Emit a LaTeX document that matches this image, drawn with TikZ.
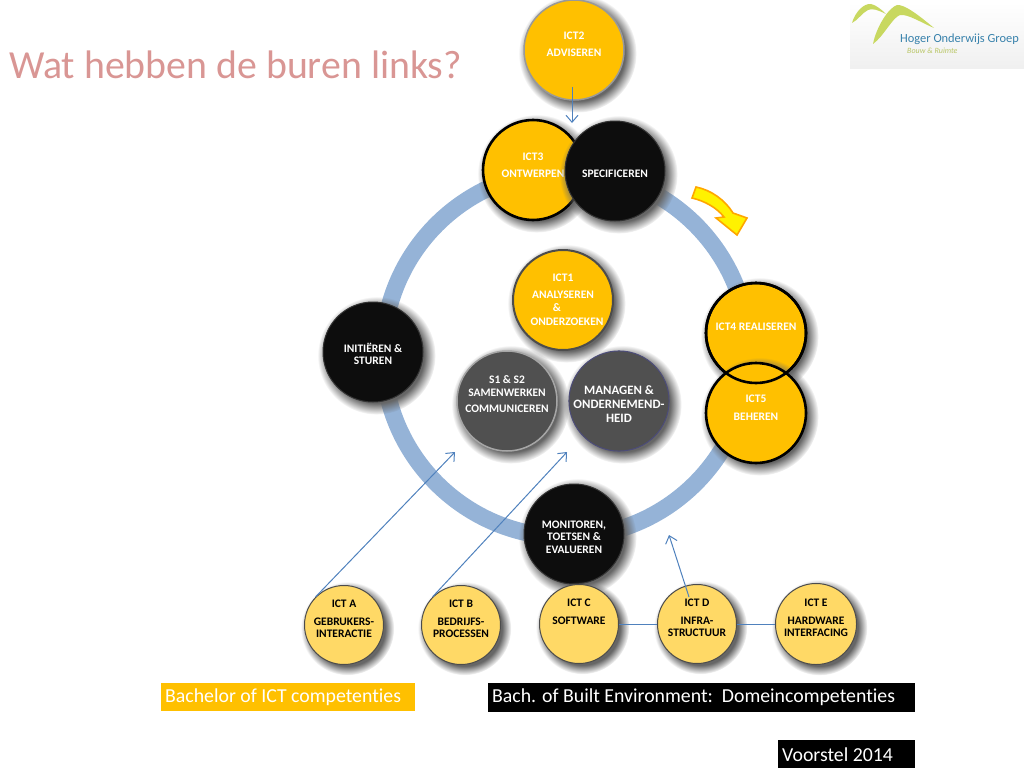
\documentclass[tikz,border=0pt]{standalone}
\usepackage{fontspec}
\setmainfont{Carlito}[Ligatures=CommonOff]
\usetikzlibrary{arrows.meta,shadows,shadings,fadings}
\definecolor{icthigh}{HTML}{FFC000}
\definecolor{ictlow}{HTML}{FFD966}
\definecolor{ringblue}{HTML}{95B3D7}
\definecolor{linkblue}{HTML}{4F81BD}
\definecolor{softgrey}{HTML}{505050}
\definecolor{nearblack}{HTML}{0D0D0D}
\definecolor{titlerose}{HTML}{D99694}
\definecolor{logogreen}{HTML}{C8D860}
\tikzset{
  disc/.style={circle, minimum size=#1, inner sep=0pt, align=center, font=\bfseries\fontsize{11.5}{12.5}\selectfont,
    general shadow={shadow xshift=3pt, shadow yshift=-3pt, shadow scale=1.18, fill=black!60,
      path fading={circle with fuzzy edge 20 percent}}},
  high/.style={disc=100pt, fill=icthigh, text=white, draw=gray!80, line width=1.5pt},
  highrim/.style={disc=100pt, fill=icthigh, text=white, draw=black, line width=2.6pt},
  dark/.style={disc=100pt, fill=nearblack, text=white, draw=gray!40!black, line width=1pt},
  mid/.style={disc=100pt, fill=softgrey, text=white, draw=gray!70, line width=1.5pt},
  low/.style={disc=79pt, fill=ictlow, text=black, draw=black!70, line width=1pt},
  link/.style={linkblue, line width=1pt},
  tag/.style={anchor=north west, inner ysep=0pt, inner xsep=4pt, align=flush left, font=\fontsize{19.8}{22}\selectfont},
}
\begin{document}
\begin{tikzpicture}[x=1pt,y=-1pt]
\useasboundingbox (0,0) rectangle (1024,768);
\node[anchor=west, inner sep=0pt, text=titlerose, font=\fontsize{39.8}{42}\selectfont] (title) at (9,65) {Wat hebben de buren links?};
% logo
\shade[top color=white, bottom color=black!6] (850,2) rectangle (1024,68);
\fill[logogreen] (852,23) .. controls (855,12) and (864,3) .. (871,4) .. controls (876,5) and (882,10) .. (886,14) .. controls (878,10) and (872,8) .. (868,10) .. controls (862,13) and (858,20) .. (852,23) -- cycle;
\fill[logogreen] (873,44) .. controls (876,28) and (888,8) .. (897,5) .. controls (905,4) and (922,18) .. (934,28) .. controls (920,22) and (908,14) .. (900,15) .. controls (892,18) and (884,36) .. (873,44) -- cycle;
\node[anchor=west, inner sep=0pt, text=linkblue!70!teal, font=\fontsize{12.4}{14}\selectfont] (logoname) at (900,39) {Hoger Onderwijs Groep};
\node[anchor=west, inner sep=0pt, text=logogreen!80!gray, font=\itshape\fontsize{8}{9}\selectfont] (logosub) at (907,51) {Bouw \& Ruimte};
% ring
\node[circle, draw=ringblue, line width=17pt, minimum size=366pt, inner sep=0pt] (ring) at (566,354) {};
% upper discs
\node[high] (ict2) at (574,50) {ICT2\\[5pt]ADVISEREN\\[-1pt]~};
\node[highrim] (ict3) at (533,170) {ICT3\\[5pt]ONTWERPEN\\[-3pt]~};
\node[dark] (spec) at (615,171) {~\\[1pt]SPECIFICEREN};
\node[dark] (init) at (373,352) {~\\[1pt]INITIËREN \&\\STUREN};
\node[high, draw=black!70, line width=2pt] (ict1) at (563,300) {ICT1\\[5pt]ANALYSEREN\\\hspace*{-12pt}\&\\[2pt]\hspace*{8pt}ONDERZOEKEN};
\node[mid] (samen) at (507,401) {S1 \& S2\\SAMENWERKEN\\[4pt]COMMUNICEREN\\[1pt]~};
\node[mid, draw=blue!25!black!70, line width=1pt, font=\bfseries\fontsize{12.8}{14}\selectfont] (managen) at (619,401) {~\\MANAGEN \&\\ONDERNEMEND-\\HEID};
\node[highrim] (ict4) at (756,333) {ICT4 REALISEREN\\~};
\node[highrim] (ict5) at (756,413) {ICT5\\[6pt]BEHEREN\\[-2pt]~};
\node[circle, draw=black, line width=2.6pt, minimum size=100pt, inner sep=0pt] (ict4rim) at (ict4) {};
\node[dark] (monitor) at (574,534) {~\\[1pt]MONITOREN,\\TOETSEN \&\\EVALUEREN};
% arrow turning right
\draw[draw=orange!70!yellow, fill=yellow, line width=1.6pt] (692,198) -- (696,187) .. controls (711,190) and (725,200) .. (733,213) -- (747,218) -- (737,235) -- (716,218) -- (724,217) .. controls (717,208) and (705,201) .. (692,198) -- cycle;
% lower discs
\node[low] (icta) at (344,625) {ICT A\\[5pt]GEBRUKERS-\\INTERACTIE\\~};
\node[low] (ictb) at (461,625) {ICT B\\[5pt]BEDRIJFS-\\PROCESSEN\\~};
\node[low] (ictc) at (579,624) {ICT C\\[5pt]SOFTWARE\\~\\~};
\node[low] (ictd) at (697,624) {ICT D\\[5pt]INFRA-\\STRUCTUUR\\~};
\node[low] (icte) at (816,624) {ICT E\\[5pt]HARDWARE\\INTERFACING\\~};
% connectors
\coordinate (ict3top) at (572,123);
\coordinate (samenfoot) at (455,452);
\coordinate (managenfoot) at (567,452);
\coordinate (ringfoot) at (669,535);
\draw[link, -{Straight Barb[length=7pt,width=12pt]}] ([yshift=14pt,xshift=-2pt]ict2.south) -- (ict3top);
\draw[link, -{Straight Barb[length=7pt,width=12pt]}] (icta.north west) -- (samenfoot);
\draw[link, -{Straight Barb[length=7pt,width=12pt]}] (ictb.north west) -- (managenfoot);
\draw[link, -{Straight Barb[length=7pt,width=12pt]}] ([xshift=-8pt,yshift=-13pt]ictd.north) -- (ringfoot);
\draw[link] (ictc) -- (ictd);
\draw[link] (ictd) -- (icte);
% tags
\node[tag, fill=icthigh, text=white, text width=246pt, minimum height=28pt] (bachelor) at (161,683) {Bachelor of ICT competenties};
\node[tag, fill=black, text=white, text width=419pt, minimum height=29pt] (builtenv) at (488,683) {Bach. of Built Environment:\ \ Domeincompetenties};
\node[tag, fill=black, text=white, text width=129pt, minimum height=28pt] (voorstel) at (778,740) {Voorstel 2014};
\end{tikzpicture}
\end{document}
